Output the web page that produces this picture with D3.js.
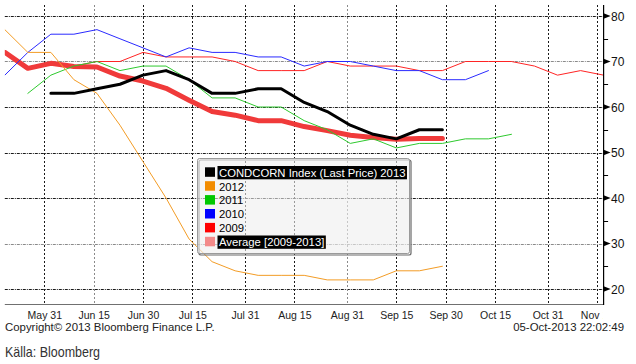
<!DOCTYPE html>
<html>
<head>
<meta charset="utf-8">
<script src="https://cdn.jsdelivr.net/npm/d3@7"></script>
<style>
  html, body { margin: 0; padding: 0; background: #ffffff; }
  svg { display: block; }
  text { font-family: "Liberation Sans", Arial, sans-serif; }
</style>
</head>
<body>
<div id="chart"></div>
<script>
// ---- Data (weekly, aligned on 2013 calendar) ----
const weeks = ["2013-05-19","2013-05-26","2013-06-02","2013-06-09","2013-06-16","2013-06-23","2013-06-30",
  "2013-07-07","2013-07-14","2013-07-21","2013-07-28","2013-08-04","2013-08-11","2013-08-18","2013-08-25",
  "2013-09-01","2013-09-08","2013-09-15","2013-09-22","2013-09-29","2013-10-06","2013-10-13","2013-10-20",
  "2013-10-27","2013-11-03","2013-11-10","2013-11-17"];

const s2013 = [null,null,63,63,64,65,67,68,66,63,63,64,64,61,59,56,54,53,55,55,null,null,null,null,null,null,null];
const s2012 = [77,72,72,66,63,56,48,40,31,26,24,23,23,23,22,22,22,24,24,25,null,null,null,null,null,null,null];
const s2011 = [null,63,67,69,70,68,69,69,66,62,62,60,60,57,55,52,53,51,52,52,53,53,54,null,null,null,null];
const s2010 = [67,72,76,76,77,75,73,71,73,72,72,71,71,69,70,70,69,68,68,66,66,68,null,null,null,null,null];
const s2009 = [null,null,null,69,70,70,72,71,71,71,70,68,68,68,70,69,69,69,68,68,70,70,70,69,67,68,67];
const sAvg  = [72,68.5,69.6,68.9,68.8,66.8,65.7,64.1,61.5,59,58.2,57,57,55.7,54.8,53.8,53.3,52.9,53.1,53.1,null,null,null,null,null,null,null];

const xTickDates  = ["2013-05-31","2013-06-15","2013-06-30","2013-07-15","2013-07-31","2013-08-15",
  "2013-08-31","2013-09-15","2013-09-30","2013-10-15","2013-10-31","2013-11-15"];
const xTickLabels = ["May 31","Jun 15","Jun 30","Jul 15","Jul 31","Aug 15","Aug 31","Sep 15","Sep 30","Oct 15","Oct 31","Nov 15"];
const yTicks = [20,30,40,50,60,70,80];
const yMinor = [25,35,45,55,65,75];

const legendLabels = ["CONDCORN Index (Last Price) 2013","2012","2011","2010","2009","Average [2009-2013]"];
const legendColors = ["#000000","#f28c00","#00c800","#0000ff","#ff0000","#f38a8a"];

// ---- Setup ----
const W = 636, H = 364;
const parse = d3.utcParse("%Y-%m-%d");
const x = d3.scaleUtc().domain([parse("2013-05-31"), parse("2013-11-15")]).range([44.3, 597]);
const y = d3.scaleLinear().domain([20, 80]).range([289, 16]);
const plotL = 4.8, plotR = 603.6, plotT = 5, plotB = 304;

const svg = d3.select("#chart").append("svg").attr("width", W).attr("height", H);
svg.append("rect").attr("width", W).attr("height", H).attr("fill", "#ffffff");

const defs = svg.append("defs");
defs.append("clipPath").attr("id", "plotclip").append("rect")
  .attr("x", plotL).attr("y", plotT).attr("width", plotR - plotL).attr("height", plotB - plotT);
defs.append("clipPath").attr("id", "xlabclip").append("rect")
  .attr("x", 0).attr("y", plotB).attr("width", 603).attr("height", 20);

// ---- Gridlines ----
const grid = svg.append("g");
const grayV = ["2013-06-15","2013-08-31"];
grid.selectAll("line.hg").data(yTicks).enter().append("line")
  .attr("x1", plotL).attr("x2", plotR)
  .attr("y1", d => Math.round(y(d)) + 0.5).attr("y2", d => Math.round(y(d)) + 0.5)
  .attr("stroke", d => (d === 70 || d === 30) ? "#8a8a8a" : "#1a1a1a")
  .attr("stroke-width", 1).attr("stroke-dasharray", "3,1,1,1");
grid.selectAll("line.vg").data(xTickDates).enter().append("line")
  .attr("x1", d => Math.round(x(parse(d))) + 0.5).attr("x2", d => Math.round(x(parse(d))) + 0.5)
  .attr("y1", plotT).attr("y2", plotB)
  .attr("stroke", d => grayV.includes(d) ? "#8a8a8a" : "#1a1a1a")
  .attr("stroke-width", 1).attr("stroke-dasharray", "2,2");

// ---- Series ----
const dates = weeks.map(parse);
const line = d3.line().defined(d => d[1] != null).x(d => x(d[0])).y(d => y(d[1]));
const toPts = arr => arr.map((v, i) => [dates[i], v]);
const lines = svg.append("g").attr("clip-path", "url(#plotclip)")
  .attr("fill", "none").attr("stroke-linejoin", "round").attr("stroke-linecap", "round");

const seriesDefs = [
  { data: sAvg,  color: "#f03a3a", width: 5 },
  { data: s2009, color: "#ff2424", width: 1 },
  { data: s2010, color: "#2a2aff", width: 1 },
  { data: s2011, color: "#2ec92e", width: 1 },
  { data: s2012, color: "#f39c25", width: 1 },
  { data: s2013, color: "#000000", width: 3 }
];
seriesDefs.forEach(s => {
  lines.append("path").attr("d", line(toPts(s.data)))
    .attr("stroke", s.color).attr("stroke-width", s.width);
});

// ---- Axes ----
svg.append("line").attr("x1", plotL).attr("x2", plotR).attr("y1", plotB + 0.5).attr("y2", plotB + 0.5)
  .attr("stroke", "#707070").attr("stroke-width", 1);

const yAxis = d3.axisRight(y).tickValues(yTicks).tickSize(0).tickPadding(7.5).tickFormat(d3.format("d"));
const yg = svg.append("g").attr("transform", `translate(${plotR},0)`).call(yAxis);
yg.select(".domain").remove();
yg.selectAll("text").attr("font-size", "12px").attr("fill", "#111").attr("dy", "0.36em")
  .style("font-family", "'Liberation Sans', Arial, sans-serif");
svg.append("line").attr("x1", plotR).attr("x2", plotR).attr("y1", plotT).attr("y2", plotB + 1)
  .attr("stroke", "#000").attr("stroke-width", 1.2);
svg.selectAll("path.arrow").data(yTicks).enter().append("path")
  .attr("d", d => { const yy = y(d); return `M${plotR},${yy - 2.8}L${plotR + 7},${yy}L${plotR},${yy + 2.8}Z`; })
  .attr("fill", "#000");
svg.selectAll("line.minor").data(yMinor).enter().append("line")
  .attr("x1", plotR).attr("x2", plotR + 4.5)
  .attr("y1", d => Math.round(y(d)) + 0.5).attr("y2", d => Math.round(y(d)) + 0.5)
  .attr("stroke", "#000").attr("stroke-width", 1);

const xAxis = d3.axisBottom(x).tickValues(xTickDates.map(parse)).tickSize(0).tickPadding(8)
  .tickFormat((d, i) => xTickLabels[i]);
const xg = svg.append("g").attr("transform", `translate(0,${plotB})`).call(xAxis);
xg.select(".domain").remove();
xg.selectAll("text").attr("font-size", "10.5px").attr("fill", "#222")
  .style("font-family", "'Liberation Sans', Arial, sans-serif");
const xgWrap = svg.append("g").attr("clip-path", "url(#xlabclip)");
xgWrap.node().appendChild(xg.node());

// ---- Legend ----
const lg = svg.append("g");
const LX = 197.5, LY = 158.5, LW = 212, LH = 95;
lg.append("rect").attr("x", LX + 1.5).attr("y", LY + 1.5).attr("width", LW).attr("height", LH)
  .attr("rx", 2).attr("fill", "none").attr("stroke", "#6a6a6a").attr("stroke-width", 1.2);
lg.append("rect").attr("x", LX).attr("y", LY).attr("width", LW).attr("height", LH)
  .attr("rx", 2).attr("fill", "#eeeeee").attr("fill-opacity", 0.6).attr("stroke", "#9a9a9a").attr("stroke-width", 1);

const rowTop = i => 167.3 + i * 13.9;
legendLabels.forEach((lab, i) => {
  const top = rowTop(i);
  lg.append("rect").attr("x", 205).attr("y", top).attr("width", 10).attr("height", 9.5)
    .attr("fill", legendColors[i]);
  const hl = (i === 0 || i === legendLabels.length - 1);
  const bg = lg.append("rect");
  const t = lg.append("text").attr("x", 219).attr("y", top + 9.3)
    .attr("font-size", "11.3px").attr("fill", hl ? "#ffffff" : "#000").text(lab);
  if (hl) {
    const w = t.node().getComputedTextLength();
    bg.attr("x", 217.5).attr("y", top - 1.3).attr("width", w + 3).attr("height", 13.3).attr("fill", "#000");
  } else {
    bg.remove();
  }
});

// ---- Footer ----
svg.append("text").attr("x", 5).attr("y", 330.5).attr("font-size", "11.4px").attr("fill", "#222")
  .text("Copyright\u00A9 2013 Bloomberg Finance L.P.");
svg.append("text").attr("x", 624).attr("y", 330.5).attr("text-anchor", "end").attr("font-size", "11.4px")
  .attr("fill", "#222").text("05-Oct-2013 22:02:49");
svg.append("text").attr("x", 5).attr("y", 357).attr("font-size", "14.5px").attr("fill", "#333")
  .attr("textLength", 95).attr("lengthAdjust", "spacingAndGlyphs")
  .text("Källa: Bloomberg");
</script>
</body>
</html>
